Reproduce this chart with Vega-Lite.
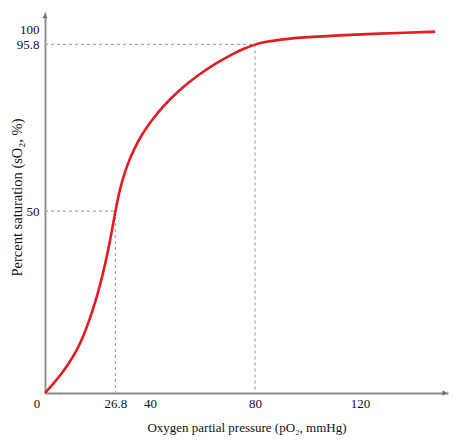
{
  "$schema": "https://vega.github.io/schema/vega-lite/v6.json",
  "width": 403,
  "height": 381,
  "autosize": "none",
  "padding": {"left": 45, "top": 12, "right": 13, "bottom": 47},
  "background": "white",
  "config": {
    "view": {"stroke": null},
    "font": "Liberation Serif",
    "axis": {
      "grid": false,
      "ticks": false,
      "domainColor": "#8a8a8a",
      "domainWidth": 1.8,
      "labelColor": "#111",
      "labelFont": "Liberation Serif",
      "labelFontSize": 13,
      "titleFont": "Liberation Serif",
      "titleFontWeight": "normal",
      "titleColor": "#111"
    }
  },
  "datasets": {
    "curve": [
      {"po2": 0, "so2": 0},
      {"po2": 3, "so2": 2.4},
      {"po2": 6, "so2": 5.0},
      {"po2": 9, "so2": 8.0},
      {"po2": 12, "so2": 11.6},
      {"po2": 14, "so2": 14.6},
      {"po2": 16, "so2": 18.2},
      {"po2": 18, "so2": 22.4},
      {"po2": 20, "so2": 27.0},
      {"po2": 22, "so2": 32.5},
      {"po2": 24, "so2": 39.0},
      {"po2": 25.5, "so2": 44.6},
      {"po2": 26.8, "so2": 50},
      {"po2": 28, "so2": 54.3},
      {"po2": 29.5, "so2": 58.6},
      {"po2": 31.5, "so2": 63.0},
      {"po2": 34, "so2": 67.2},
      {"po2": 37, "so2": 71.2},
      {"po2": 40.4, "so2": 74.7},
      {"po2": 45, "so2": 78.9},
      {"po2": 51, "so2": 83.2},
      {"po2": 58, "so2": 87.2},
      {"po2": 65, "so2": 90.6},
      {"po2": 72, "so2": 93.4},
      {"po2": 76, "so2": 94.7},
      {"po2": 80, "so2": 95.8},
      {"po2": 84, "so2": 96.5},
      {"po2": 90, "so2": 97.2},
      {"po2": 100, "so2": 97.8},
      {"po2": 112, "so2": 98.3},
      {"po2": 125, "so2": 98.7},
      {"po2": 137, "so2": 99.0},
      {"po2": 148.6, "so2": 99.3}
    ],
    "guides": [
      {"x": 0, "y": 50, "x2": 26.8, "y2": 50},
      {"x": 26.8, "y": 50, "x2": 26.8, "y2": 0},
      {"x": 0, "y": 95.8, "x2": 80, "y2": 95.8},
      {"x": 80, "y": 95.8, "x2": 80, "y2": 0}
    ],
    "arrows": [
      {"x": 152.3, "y": 0, "shape": "triangle-right"},
      {"x": 0, "y": 103.6, "shape": "triangle-up"}
    ],
    "origin": [
      {"x": 0, "y": 0, "label": "0"}
    ]
  },
  "layer": [
    {
      "data": {"name": "guides"},
      "mark": {"type": "rule", "color": "#a8a8a8", "strokeWidth": 1.2, "strokeDash": [3, 3]},
      "encoding": {
        "x": {
          "field": "x",
          "type": "quantitative",
          "scale": {"domain": [0, 153.5], "nice": false, "zero": true},
          "axis": {
            "values": [26.8, 40, 80, 120],
            "format": ".1~f",
            "labelPadding": 4,
            "title": "Oxygen partial pressure (pO₂, mmHg)",
            "titleFontSize": 13,
            "titleY": 34,
            "titleBaseline": "middle"
          }
        },
        "y": {
          "field": "y",
          "type": "quantitative",
          "scale": {"domain": [0, 104.7], "nice": false},
          "axis": {
            "values": [50, 95.8, 100],
            "format": ".1~f",
            "labelPadding": 6,
            "title": "Percent saturation (sO₂, %)",
            "titleFontSize": 14.5,
            "titleX": -28,
            "titleY": 185,
            "titleBaseline": "middle"
          }
        },
        "x2": {"field": "x2"},
        "y2": {"field": "y2"}
      }
    },
    {
      "data": {"name": "curve"},
      "mark": {"type": "line", "color": "#e31b23", "strokeWidth": 2.6, "interpolate": "basis"},
      "encoding": {
        "x": {"field": "po2", "type": "quantitative"},
        "y": {"field": "so2", "type": "quantitative"}
      }
    },
    {
      "data": {"name": "arrows"},
      "mark": {"type": "point", "filled": true, "color": "#6f6f6f", "size": 28, "opacity": 1, "clip": false},
      "encoding": {
        "x": {"field": "x", "type": "quantitative"},
        "y": {"field": "y", "type": "quantitative"},
        "shape": {"field": "shape", "type": "nominal", "scale": null}
      }
    },
    {
      "data": {"name": "origin"},
      "mark": {"type": "text", "fontSize": 13, "color": "#111", "dx": -8, "dy": 11, "font": "Liberation Serif"},
      "encoding": {
        "x": {"field": "x", "type": "quantitative"},
        "y": {"field": "y", "type": "quantitative"},
        "text": {"field": "label"}
      }
    }
  ]
}
